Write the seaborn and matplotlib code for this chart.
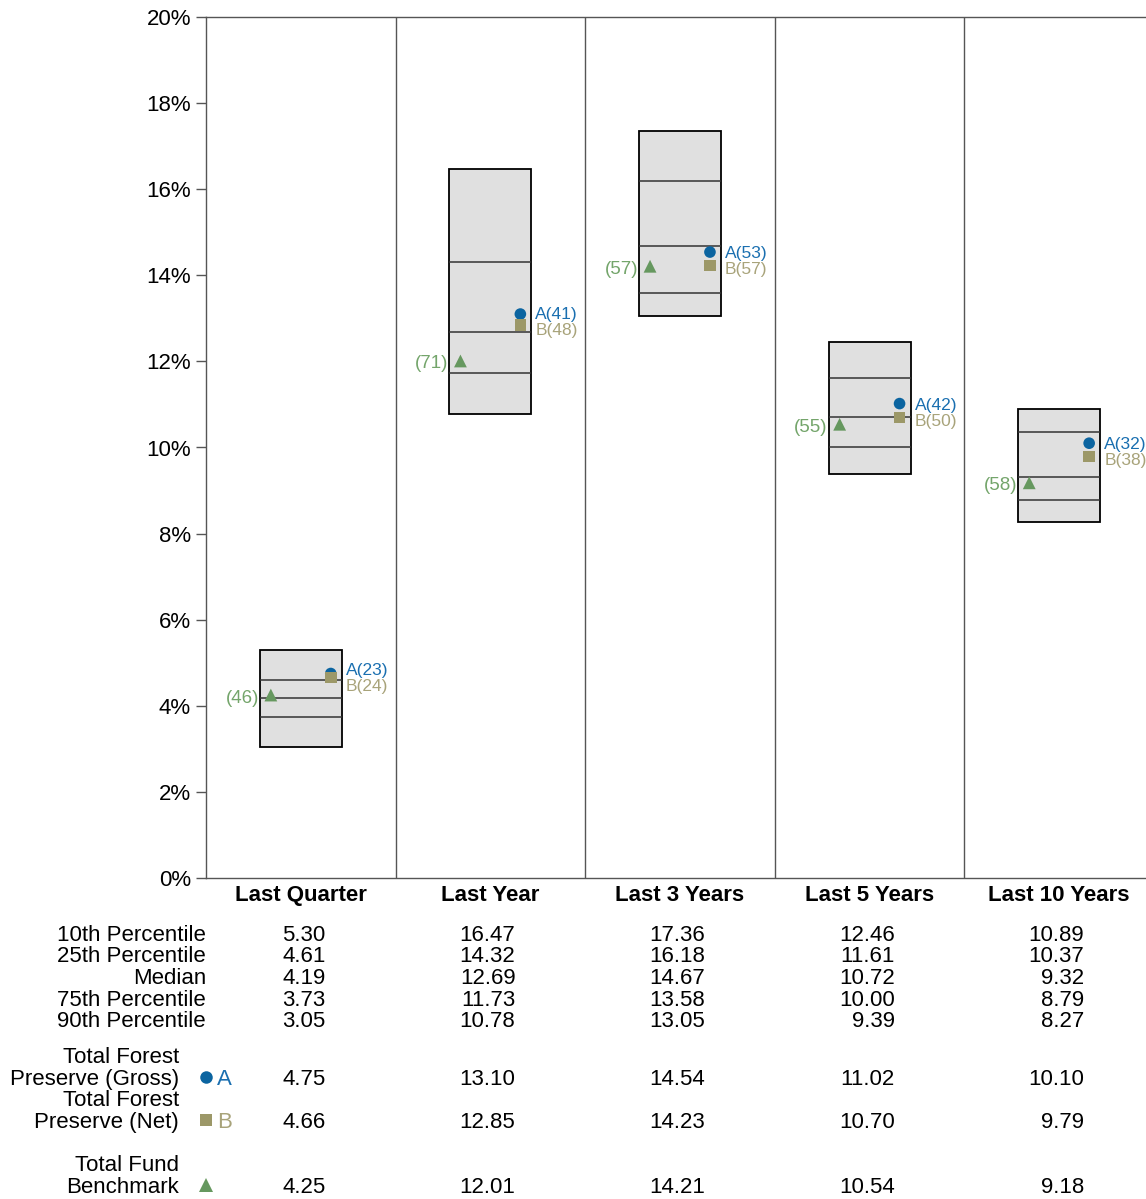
import numpy as np
import pandas as pd
import matplotlib
matplotlib.use("Agg")
import matplotlib.pyplot as plt
from matplotlib.lines import Line2D
from matplotlib.transforms import blended_transform_factory
import seaborn as sns

# chart values
periods = ["Last Quarter", "Last Year", "Last 3 Years", "Last 5 Years", "Last 10 Years"]
p10 = [5.30, 16.47, 17.36, 12.46, 10.89]
p25 = [4.61, 14.32, 16.18, 11.61, 10.37]
median = [4.19, 12.69, 14.67, 10.72, 9.32]
p75 = [3.73, 11.73, 13.58, 10.00, 8.79]
p90 = [3.05, 10.78, 13.05, 9.39, 8.27]
gross = [4.75, 13.10, 14.54, 11.02, 10.10]
gross_rank = [23, 41, 53, 42, 32]
net = [4.66, 12.85, 14.23, 10.70, 9.79]
net_rank = [24, 48, 57, 50, 38]
bench = [4.25, 12.01, 14.21, 10.54, 9.18]
bench_rank = [46, 71, 57, 55, 58]
yticks = [0, 2, 4, 6, 8, 10, 12, 14, 16, 18, 20]
pct_labels = ["10th Percentile", "25th Percentile", "Median", "75th Percentile", "90th Percentile"]

BLUE = "#0b64a0"
BLUE_TXT = "#1a6fb0"
KHAKI = "#9c9868"
KHAKI_TXT = "#a8a37a"
GREEN = "#66985f"
GREEN_TXT = "#74a56b"
GRID = "#555555"

sns.set_theme(style="white")
plt.rcParams["font.family"] = ["Liberation Sans", "DejaVu Sans"]
plt.rcParams["text.color"] = "black"

W, H = 1146, 1199
fig = plt.figure(figsize=(W / 100, H / 100), dpi=100)
ax = fig.add_axes([206 / W, 1 - 878 / H, 948 / W, (878 - 17) / H])

def px(p):
    return p * 0.72  # pixels -> points at 100 dpi

def fy(py):
    return 1 - (py + 2.5) / H

x = np.arange(len(periods))
bw = 0.432
ax.bar(x, np.array(p10) - np.array(p90), bottom=p90, width=bw,
       color="#e0e0e0", edgecolor="black", linewidth=1.3, zorder=2)
for vals in (p25, median, p75):
    ax.hlines(vals, x - bw / 2, x + bw / 2, color="#333333", linewidth=1.1, zorder=3)

for sep in x[:-1] + 0.5:
    ax.axvline(sep, color=GRID, linewidth=1, zorder=1)

off = 0.158
df = pd.DataFrame({"x": x, "gross": gross, "net": net, "bench": bench})
sns.scatterplot(data=df.assign(xx=x + off), x="xx", y="gross", marker="o", s=70,
                color=BLUE, edgecolor="none", ax=ax, zorder=4)
sns.scatterplot(data=df.assign(xx=x + off), x="xx", y="net", marker="s", s=70,
                color=KHAKI, edgecolor="none", ax=ax, zorder=5)
sns.scatterplot(data=df.assign(xx=x - off), x="xx", y="bench", marker="^", s=85,
                color=GREEN, edgecolor="none", ax=ax, zorder=5)

for i in range(len(periods)):
    mid = (gross[i] + net[i]) / 2
    ax.annotate(f"A({gross_rank[i]})", (x[i] + off, mid), xytext=(px(15), px(5)),
                textcoords="offset points", ha="left", va="center",
                color=BLUE_TXT, fontsize=12.5, zorder=6)
    ax.annotate(f"B({net_rank[i]})", (x[i] + off, mid), xytext=(px(15), px(-11)),
                textcoords="offset points", ha="left", va="center",
                color=KHAKI_TXT, fontsize=12.5, zorder=6)
    ax.annotate(f"({bench_rank[i]})", (x[i] - off, bench[i]), xytext=(px(-12), px(-3)),
                textcoords="offset points", ha="right", va="center",
                color=GREEN_TXT, fontsize=13.5, zorder=6)

ax.set_xlim(-0.5, len(periods) - 0.5)
ax.set_ylim(0, 20)
ax.set_yticks(yticks)
ax.set_yticklabels([f"{v}%" for v in yticks])
ax.set_xticks(x)
ax.set_xticklabels(periods, fontweight="bold")
ax.tick_params(axis="y", direction="out", length=px(10), width=1, color=GRID,
               pad=px(5), labelsize=16, left=True, labelcolor="black")
ax.tick_params(axis="x", length=0, pad=px(7), labelsize=16, labelcolor="black")
for side in ("left", "top", "bottom"):
    ax.spines[side].set_color(GRID)
    ax.spines[side].set_linewidth(1)
ax.spines["right"].set_visible(False)
ax.set_xlabel("")
ax.set_ylabel("")

# table under the chart
trans = blended_transform_factory(ax.transData, fig.transFigure)
vx = 25 / 189.6
tbl_rows = [933, 954.5, 976, 997.5, 1019]
for r, (lab, vals) in enumerate(zip(pct_labels, [p10, p25, median, p75, p90])):
    fig.text(206 / W, fy(tbl_rows[r]), lab, ha="right", va="center", fontsize=16)
    for i, v in enumerate(vals):
        ax.text(x[i] + vx, fy(tbl_rows[r]), f"{v:.2f}", transform=trans,
                ha="right", va="center", fontsize=16, clip_on=False)

series_rows = [
    ("Total Forest\nPreserve (Gross)", gross, 1077, "o", BLUE, "A", BLUE_TXT),
    ("Total Forest\nPreserve (Net)", net, 1120, "s", KHAKI, "B", KHAKI_TXT),
    ("Total Fund\nBenchmark", bench, 1185, "^", GREEN, "", GREEN_TXT),
]
for lab, vals, py, mk, col, letter, tcol in series_rows:
    lines = lab.split("\n")
    for k, line in enumerate(lines):
        fig.text(179 / W, fy(py - 22 * (len(lines) - 1 - k)), line,
                 ha="right", va="center", fontsize=16)
    fig.add_artist(Line2D([206 / W], [1 - (py - 0.5) / H], marker=mk,
                          markersize=9 if mk != "^" else 10,
                          color=col, markeredgewidth=0, linestyle="none",
                          transform=fig.transFigure))
    if letter:
        fig.text(217 / W, fy(py), letter, ha="left", va="center", fontsize=16, color=tcol)
    for i, v in enumerate(vals):
        ax.text(x[i] + vx, fy(py), f"{v:.2f}", transform=trans,
                ha="right", va="center", fontsize=16, clip_on=False)

fig.savefig("out.png", dpi=100)
